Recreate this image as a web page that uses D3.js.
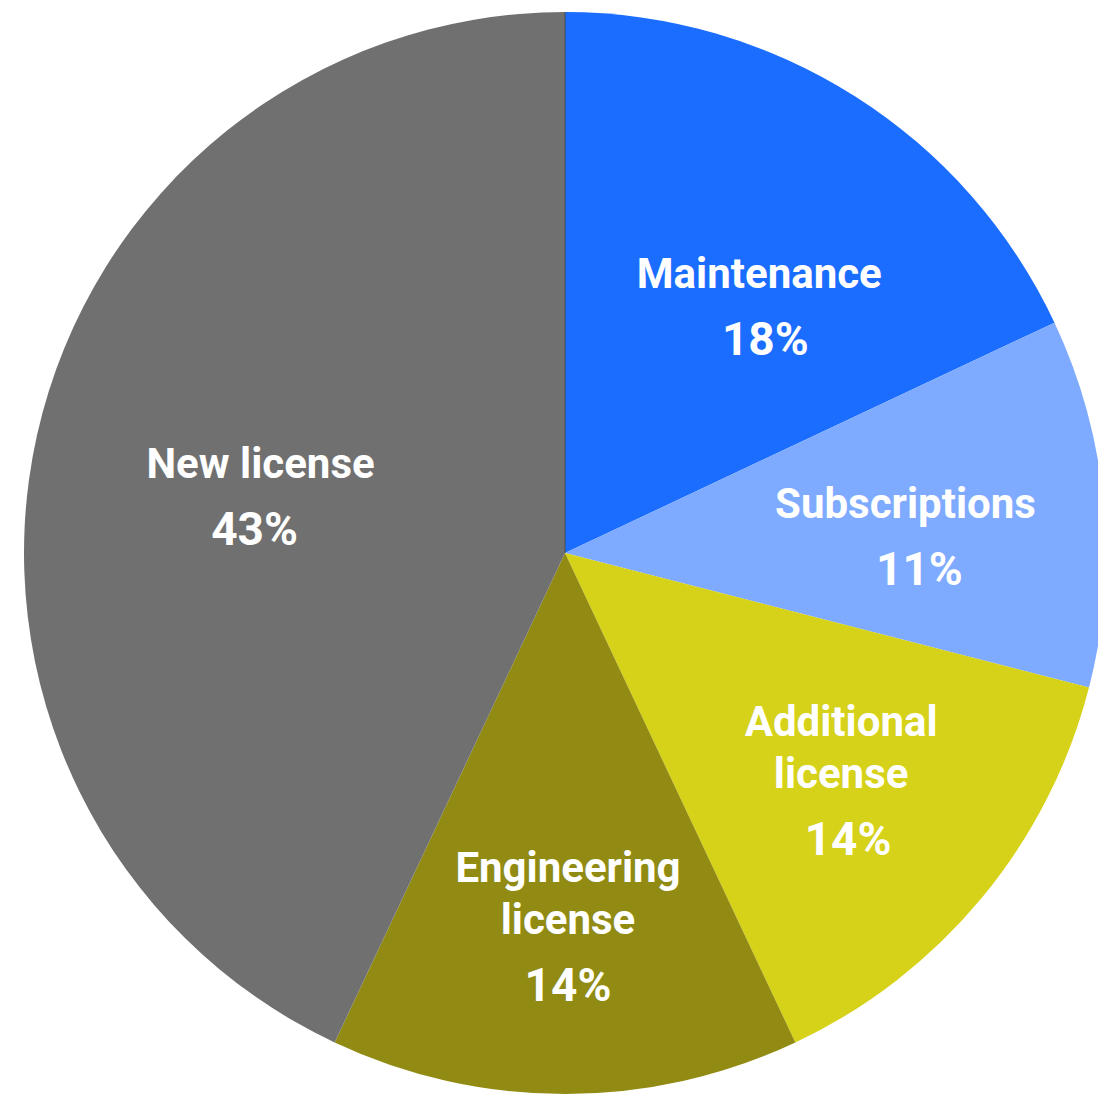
<!DOCTYPE html>
<html>
<head>
<meta charset="utf-8">
<script src="https://cdn.jsdelivr.net/npm/d3@7"></script>
<style>
  html, body { margin: 0; padding: 0; background: #ffffff; }
  svg { display: block; }
  text { font-family: Roboto, "Noto Sans", sans-serif; font-weight: 700; fill: #ffffff; }
</style>
</head>
<body>
<svg id="chart" width="1098" height="1094"></svg>
<script>
// Revenue mix by type
const categories = ["Maintenance", "Subscriptions", "Additional license", "Engineering license", "New license"];
const shares = [18, 11, 14, 14, 43];
const colors = ["#1a6dff", "#7eaaff", "#d6d119", "#918b13", "#707070"];
// line breaks used in the slice labels
const labelLines = [["Maintenance"], ["Subscriptions"], ["Additional", "license"], ["Engineering", "license"], ["New license"]];

const width = 1098, height = 1094;
const cx = 565, cy = 553, radius = 541;

// fine placement of each label block relative to its slice centroid
const labelNudge = [
  { dx: 3, dy: 36, pdx: 6 },
  { dx: -15, dy: -1, pdx: 14 },
  { dx: 1, dy: -45, pdx: 7 },
  { dx: 3, dy: -28, pdx: 0 },
  { dx: 44, dy: 3, pdx: -6 }
];

const data = categories.map((c, i) => ({ name: c, value: shares[i], color: colors[i], lines: labelLines[i], nudge: labelNudge[i] }));

const svg = d3.select("#chart");
const g = svg.append("g").attr("transform", `translate(${cx},${cy})`);

const pie = d3.pie().value(d => d.value).sort(null);
const arc = d3.arc().innerRadius(0).outerRadius(radius);
const labelArc = d3.arc().innerRadius(radius * 0.66).outerRadius(radius * 0.66);

const arcs = pie(data);

g.selectAll("path.slice")
  .data(arcs)
  .join("path")
  .attr("class", "slice")
  .attr("d", arc)
  .attr("fill", d => d.data.color);

// faint seam along the start angle
g.append("line")
  .attr("x1", 0).attr("y1", 0)
  .attr("x2", 0).attr("y2", -radius)
  .attr("stroke", "#4d4d4d")
  .attr("stroke-width", 1);

const nameGap = 52, pctGap = 67;

const labels = g.selectAll("g.label")
  .data(arcs)
  .join("g")
  .attr("class", "label")
  .attr("transform", d => {
    const [x, y] = labelArc.centroid(d);
    return `translate(${x + d.data.nudge.dx},${y + d.data.nudge.dy})`;
  });

labels.each(function (d) {
  const sel = d3.select(this);
  d.data.lines.forEach((line, i) => {
    sel.append("text")
      .attr("x", 0)
      .attr("y", i * nameGap)
      .attr("text-anchor", "middle")
      .attr("font-size", 42)
      .text(line);
  });
  sel.append("text")
    .attr("x", d.data.nudge.pdx)
    .attr("y", (d.data.lines.length - 1) * nameGap + pctGap)
    .attr("text-anchor", "middle")
    .attr("font-size", 46)
    .text(d3.format(".0f")(d.data.value) + "%");
});
</script>
</body>
</html>
